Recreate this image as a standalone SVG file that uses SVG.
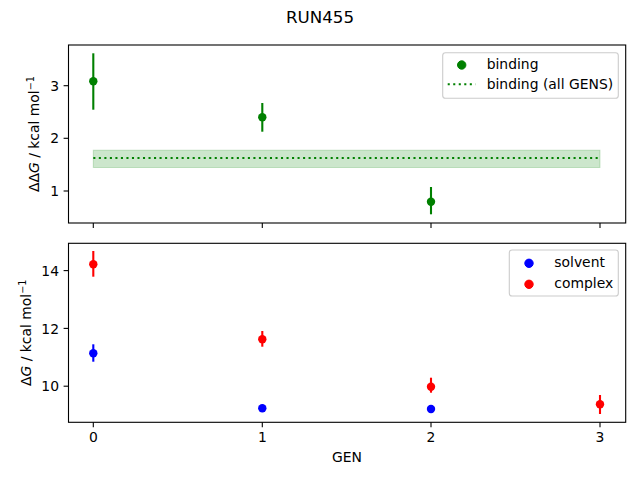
<svg xmlns="http://www.w3.org/2000/svg" width="640" height="480" viewBox="0 0 640 480">
<style>
text{font-family:"DejaVu Sans","Liberation Sans",sans-serif;font-size:13.9px;fill:#000}
.title{font-size:16.7px}
.spine{fill:none;stroke:#000;stroke-width:1.1}
.tick{stroke:#000;stroke-width:1.1}
.err{stroke-width:2.1}
.g{fill:#008000;stroke:#008000}
.b{fill:#0000ff;stroke:#0000ff}
.r{fill:#ff0000;stroke:#ff0000}
.leg{fill:#fff;fill-opacity:0.8;stroke:#cccccc;stroke-width:1.1}
.dot{stroke:#008000;stroke-width:2.08;stroke-dasharray:2.08 3.44;fill:none}
.yl{text-anchor:end}
.xl{text-anchor:middle}
</style>
<rect width="640" height="480" fill="#fff"/>
<text class="title" x="320" y="22.5" text-anchor="middle">RUN455</text>

<g id="top-axes">
  <rect id="band" x="93.3" y="150.2" width="506.7" height="17.3" fill="#008000" fill-opacity="0.2" stroke="#008000" stroke-opacity="0.2" stroke-width="1"/>
  <line id="all-gens" class="dot" x1="93.3" y1="158" x2="600" y2="158"/>
  <g id="binding-series">
    <g class="g">
      <line class="err" x1="93.3" y1="53.3" x2="93.3" y2="109.7"/>
      <line class="err" x1="262.3" y1="103" x2="262.3" y2="131.7"/>
      <line class="err" x1="431" y1="187" x2="431" y2="214.3"/>
      <circle cx="93.3" cy="81.3" r="4.2" stroke="none"/>
      <circle cx="262.3" cy="117.3" r="4.2" stroke="none"/>
      <circle cx="431" cy="201.7" r="4.2" stroke="none"/>
    </g>
  </g>
  <rect class="spine" x="68.5" y="45" width="557.2" height="178"/>
  <g id="top-ticks">
    <line class="tick" x1="93.3" y1="223" x2="93.3" y2="227.9"/>
    <line class="tick" x1="262.3" y1="223" x2="262.3" y2="227.9"/>
    <line class="tick" x1="431" y1="223" x2="431" y2="227.9"/>
    <line class="tick" x1="600" y1="223" x2="600" y2="227.9"/>
    <line class="tick" x1="63.6" y1="85.7" x2="68.5" y2="85.7"/>
    <line class="tick" x1="63.6" y1="138.3" x2="68.5" y2="138.3"/>
    <line class="tick" x1="63.6" y1="191" x2="68.5" y2="191"/>
    <text class="yl" x="59" y="90.8">3</text>
    <text class="yl" x="59" y="143.4">2</text>
    <text class="yl" x="59" y="196.1">1</text>
  </g>
  <text transform="translate(38.5,134) rotate(-90)" text-anchor="middle">ΔΔ<tspan font-style="italic">G</tspan> / kcal mol<tspan font-size="9.7px" dy="-5">−1</tspan></text>
  <g id="top-legend">
    <rect class="leg" x="442.7" y="52.7" width="175.6" height="45.6" rx="2.8"/>
    <circle class="g" cx="461.7" cy="65" r="4.2" stroke="none"/>
    <text x="486.7" y="68.7">binding</text>
    <line class="dot" x1="447.7" y1="84.3" x2="475.5" y2="84.3"/>
    <text x="486.7" y="88.7">binding (all GENS)</text>
  </g>
</g>

<g id="bottom-axes">
  <g id="solvent-series" class="b">
    <line class="err" x1="93.3" y1="344.3" x2="93.3" y2="361.7"/>
    <line class="err" x1="262.3" y1="406.3" x2="262.3" y2="410.3"/>
    <line class="err" x1="431" y1="407.5" x2="431" y2="410.5"/>
    <circle cx="93.3" cy="353.3" r="4.2" stroke="none"/>
    <circle cx="262.3" cy="408.3" r="4.2" stroke="none"/>
    <circle cx="431" cy="409" r="4.2" stroke="none"/>
  </g>
  <g id="complex-series" class="r">
    <line class="err" x1="93.3" y1="251" x2="93.3" y2="276.7"/>
    <line class="err" x1="262.3" y1="331" x2="262.3" y2="346.7"/>
    <line class="err" x1="431" y1="377.7" x2="431" y2="392.7"/>
    <line class="err" x1="600" y1="395" x2="600" y2="414"/>
    <circle cx="93.3" cy="264.3" r="4.2" stroke="none"/>
    <circle cx="262.3" cy="339.3" r="4.2" stroke="none"/>
    <circle cx="431" cy="386.7" r="4.2" stroke="none"/>
    <circle cx="600" cy="404.3" r="4.2" stroke="none"/>
  </g>
  <rect class="spine" x="68.5" y="243.3" width="557.2" height="179"/>
  <g id="bottom-ticks">
    <line class="tick" x1="93.3" y1="422.3" x2="93.3" y2="427.2"/>
    <line class="tick" x1="262.3" y1="422.3" x2="262.3" y2="427.2"/>
    <line class="tick" x1="431" y1="422.3" x2="431" y2="427.2"/>
    <line class="tick" x1="600" y1="422.3" x2="600" y2="427.2"/>
    <text class="xl" x="93.3" y="442">0</text>
    <text class="xl" x="262.3" y="442">1</text>
    <text class="xl" x="431" y="442">2</text>
    <text class="xl" x="600" y="442">3</text>
    <line class="tick" x1="63.6" y1="270.6" x2="68.5" y2="270.6"/>
    <line class="tick" x1="63.6" y1="328.4" x2="68.5" y2="328.4"/>
    <line class="tick" x1="63.6" y1="386.2" x2="68.5" y2="386.2"/>
    <text class="yl" x="59" y="275.7">14</text>
    <text class="yl" x="59" y="333.5">12</text>
    <text class="yl" x="59" y="391.3">10</text>
  </g>
  <text class="xl" x="347" y="462">GEN</text>
  <text transform="translate(31,332.8) rotate(-90)" text-anchor="middle">Δ<tspan font-style="italic">G</tspan> / kcal mol<tspan font-size="9.7px" dy="-5">−1</tspan></text>
  <g id="bottom-legend">
    <rect class="leg" x="509.3" y="250" width="109" height="46" rx="2.8"/>
    <circle class="b" cx="529" cy="263.3" r="4.2" stroke="none"/>
    <text x="554.3" y="267.3">solvent</text>
    <circle class="r" cx="529" cy="284.3" r="4.2" stroke="none"/>
    <text x="554.3" y="288.3">complex</text>
  </g>
</g>
</svg>
